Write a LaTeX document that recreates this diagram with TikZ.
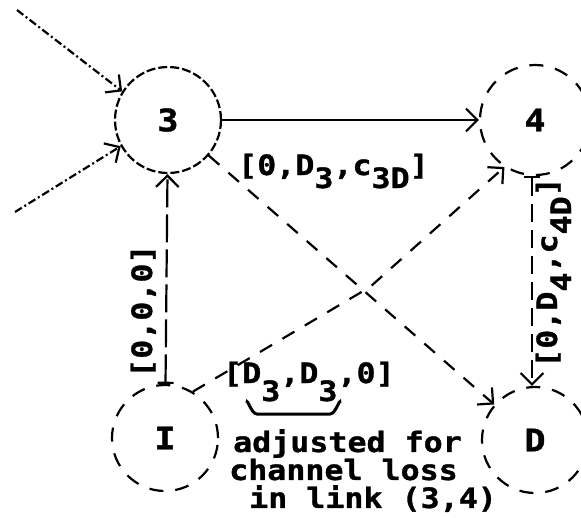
\documentclass[tikz,border=0pt]{standalone}
\usepackage{fontspec}
\usetikzlibrary{arrows.meta}
\newfontfamily\pix{DejaVu Sans Mono}[FakeStretch=1.13, BoldFeatures={FakeBold=1.2}]
\newcommand\lo[2][14pt]{\raisebox{-#1}{#2}}
\begin{document}
\begin{tikzpicture}[x=1pt,y=-1pt,
  txt/.style={font=\pix\bfseries\fontsize{28}{28}\selectfont, inner sep=0pt},
  state/.style={circle, draw, line width=2.2pt, minimum size=106pt, inner sep=0pt,
    font=\pix\bfseries\fontsize{31}{31}\selectfont, dash pattern=on 14pt off 12pt},
  conn/.style={line width=2.2pt, -{Straight Barb[angle=90:16pt]}},
  tailbar/.style={{Bar[width=16pt]}-{Straight Barb[angle=90:16pt]}}
]
\useasboundingbox (0,0) rectangle (581,517);
\clip (0,0) rectangle (581,517);

\node[state, dash pattern=on 9pt off 3pt] (n3) at (168,120) {3};
\node[state, minimum size=110pt] (n4) at (535,120) {4};
\node[state] (nI) at (165,438) {I};
\node[state] (nD) at (535,440) {D};

\coordinate (in1) at (17,10);
\coordinate (in2) at (15,212);
\coordinate (bend) at (370,287);

% incoming arrows to 3
\draw[conn, dash pattern=on 8pt off 3pt on 2pt off 3pt] (in1) -- (n3.148);
\draw[conn, dash pattern=on 8pt off 3pt on 2pt off 3pt] (in2) -- (n3.209);
% 3 -> 4
\draw[conn] (n3) -- (n4);
% I -> 3
\draw[conn, tailbar, dash pattern=on 28pt off 7pt] (nI) -- (n3);
% 4 -> D
\draw[conn, tailbar, dash pattern=on 18pt off 8pt] ([xshift=-3pt]n4.south) -- ([xshift=-3pt]nD.north);
% 3 -> D
\draw[conn, dash pattern=on 14pt off 12pt] (n3) -- (nD);
% I -> 4
\draw[conn, dash pattern=on 14pt off 12pt] (nI.59) -- (bend) -- (n4.237);

% labels
\node[txt, anchor=base west] (l3D) at (238,175) {[0,D\lo[13pt]{3},c\lo[13pt]{3D}]};
\node[txt, anchor=base west] (lD3) at (223,383) {[D\lo[18pt]{3},D\lo[18pt]{3},0]};
\node[txt, anchor=base west, rotate=90] (l000) at (152,378) {[0,0,0]};
\node[txt, anchor=base west, rotate=90] (l4D) at (557,368) {[0,D\lo[14pt]{4},c\lo[14pt]{4D}]};
\node[txt, anchor=north west, align=left] (note) at (229,429)
  {\hspace*{4pt}adjusted for\\channel loss\\\hspace*{20pt}in link (3,4)};

% brace
\draw[line width=3pt] (247,403) to[out=90,in=180] (257,414) -- (330,414) to[out=0,in=90] (340,403);
\end{tikzpicture}
\end{document}
